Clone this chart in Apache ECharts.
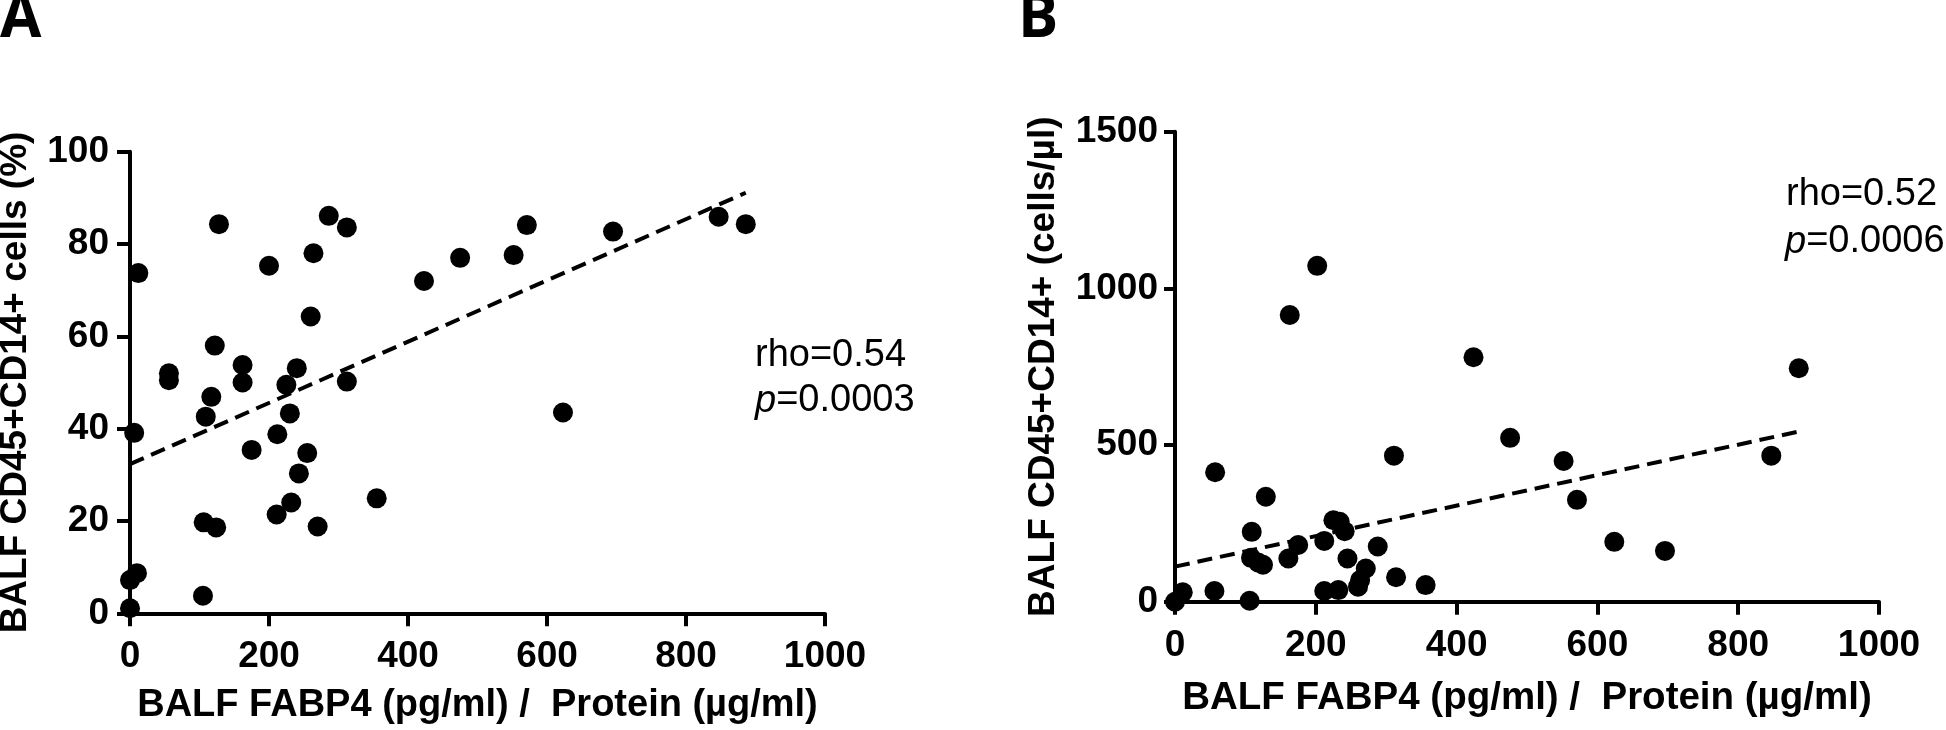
<!DOCTYPE html>
<html><head><meta charset="utf-8">
<script src="https://cdn.jsdelivr.net/npm/echarts@6/dist/echarts.min.js"></script>
<style>html,body{margin:0;padding:0;background:#fff}#c{width:1946px;height:730px}</style>
</head><body><div id="c"></div><script>
// Panel A: BALF FABP4/protein vs CD45+CD14+ cells (%)
const fabp4A = [12,128,286,312,264,200,423,475,260,122,56,56,162,240,162,225,312,117,109,230,6,212,175,255,243,355,232,211,106,124,270,10,0,105,0,552,571,695,847,886,623];
const pctA   = [73.7,84.3,86.1,83.6,78.0,75.3,72.0,77.0,64.3,58.0,52.0,50.5,53.8,53.1,50.0,49.5,50.2,46.9,42.6,43.3,39.1,38.8,35.4,34.7,30.3,24.9,24.0,21.4,19.7,18.6,18.8,8.7,7.2,3.8,1.1,77.6,84.1,82.7,85.9,84.3,43.5];
const fitXA = [0, 886];
const fitYA = [32.3, 91.1];
// Panel B: BALF FABP4/protein vs CD45+CD14+ (cells/µl)
const fabp4B = [0,11,56,57,106,109,108,118,125,129,161,163,175,202,212,212,225,234,241,232,245,271,263,260,288,311,314,356,424,476,552,571,624,696,847,886];
const cellsB = [0,30,34,413,3,223,140,125,118,335,138,915,181,1072,194,34,260,255,225,37,138,106,69,48,176,466,78,53,780,523,449,325,191,162,466,745];
const fitXB = [0, 886];
const fitYB = [112, 543];
// Axis ticks
const xTicks = [0,200,400,600,800,1000];
const yTicksA = [0,20,40,60,80,100];
const yTicksB = [0,500,1000,1500];
const xTitle = 'BALF FABP4 (pg/ml) /  Protein (µg/ml)';
const yTitleA = 'BALF CD45+CD14+ cells (%)';
const yTitleB = 'BALF CD45+CD14+ (cells/µl)';
const statsA = ['rho=0.54', '0.0003'];
const statsB = ['rho=0.52', '0.0006'];

const FONT = 'Liberation Sans';
const boldTxt = {fontFamily: FONT, fontWeight: 'bold', fontSize: 37, color: '#000'};
const plain = v => String(v);

function xAxis(gi, gap, margin, nameSize) {
  return {
    type: 'value', gridIndex: gi, min: xTicks[0], max: xTicks[xTicks.length-1],
    interval: xTicks[1]-xTicks[0],
    name: xTitle, nameLocation: 'middle', nameGap: gap,
    nameTextStyle: Object.assign({}, boldTxt, {fontSize: nameSize}),
    axisLine: {show: true, onZero: false, lineStyle: {color: '#000', width: 4}},
    axisTick: {show: true, length: 13, lineStyle: {color: '#000', width: 4}},
    axisLabel: Object.assign({margin: margin, formatter: plain}, boldTxt),
    splitLine: {show: false}
  };
}
function yAxis(gi, ticks, title, gap, margin, tlen) {
  return {
    type: 'value', gridIndex: gi, min: ticks[0], max: ticks[ticks.length-1],
    interval: ticks[1]-ticks[0],
    name: title, nameLocation: 'middle', nameGap: gap,
    nameTextStyle: Object.assign({}, boldTxt),
    axisLine: {show: true, onZero: false, lineStyle: {color: '#000', width: 4}},
    axisTick: {show: true, length: tlen, lineStyle: {color: '#000', width: 4}},
    axisLabel: Object.assign({margin: margin, formatter: plain}, boldTxt),
    splitLine: {show: false}
  };
}
function pairs(xs, ys) { return xs.map((x, i) => [x, ys[i]]); }

const chart = echarts.init(document.getElementById('c'), null, {renderer: 'canvas'});
chart.setOption({
  backgroundColor: '#fff',
  animation: false,
  grid: [
    {left: 130, top: 151.7, width: 695, height: 461.6, outerBoundsMode: 'none', containLabel: false},
    {left: 1175, top: 131.7, width: 704, height: 470, outerBoundsMode: 'none', containLabel: false}
  ],
  xAxis: [xAxis(0, 73, 25, 38), xAxis(1, 77, 26, 38.5)],
  yAxis: [yAxis(0, yTicksA, yTitleA, 96, 21, 13), yAxis(1, yTicksB, yTitleB, 113, 17, 11)],
  series: [
    {type: 'line', xAxisIndex: 0, yAxisIndex: 0, data: pairs(fitXA, fitYA), symbol: 'none', clip: false,
     lineStyle: {color: '#000', width: 4, type: [15, 8]}, z: 3},
    {type: 'scatter', xAxisIndex: 0, yAxisIndex: 0, data: pairs(fabp4A, pctA), symbol: 'circle', symbolSize: 20,
     itemStyle: {color: '#000', opacity: 1}, clip: false, z: 4},
    {type: 'line', xAxisIndex: 1, yAxisIndex: 1, data: pairs(fitXB, fitYB), symbol: 'none', clip: false,
     lineStyle: {color: '#000', width: 4, type: [15, 8]}, z: 3},
    {type: 'scatter', xAxisIndex: 1, yAxisIndex: 1, data: pairs(fabp4B, cellsB), symbol: 'circle', symbolSize: 20,
     itemStyle: {color: '#000', opacity: 1}, clip: false, z: 4}
  ],
  graphic: [
    {type: 'text', left: 0, top: -10, style: {text: 'A', fontFamily: 'Open Sans', fontWeight: 'bold', fontSize: 60, fill: '#000'}},
    {type: 'text', left: 1018, top: -10, style: {text: 'B', fontFamily: 'Open Sans', fontWeight: 'bold', fontSize: 60, fill: '#000'}},
    {type: 'text', left: 755, top: 337, style: {text: statsA[0], fontFamily: FONT, fontSize: 38, fill: '#000'}},
    {type: 'text', left: 755, top: 382, style: {text: '{i|p}=' + statsA[1], fontFamily: FONT, fontSize: 38, fill: '#000',
      rich: {i: {fontFamily: FONT, fontSize: 38, fontStyle: 'italic', fill: '#000'}}}},
    {type: 'text', left: 1786, top: 176, style: {text: statsB[0], fontFamily: FONT, fontSize: 38, fill: '#000'}},
    {type: 'text', left: 1785, top: 223, style: {text: '{i|p}=' + statsB[1], fontFamily: FONT, fontSize: 38, fill: '#000',
      rich: {i: {fontFamily: FONT, fontSize: 38, fontStyle: 'italic', fill: '#000'}}}}
  ]
});
</script></body></html>
